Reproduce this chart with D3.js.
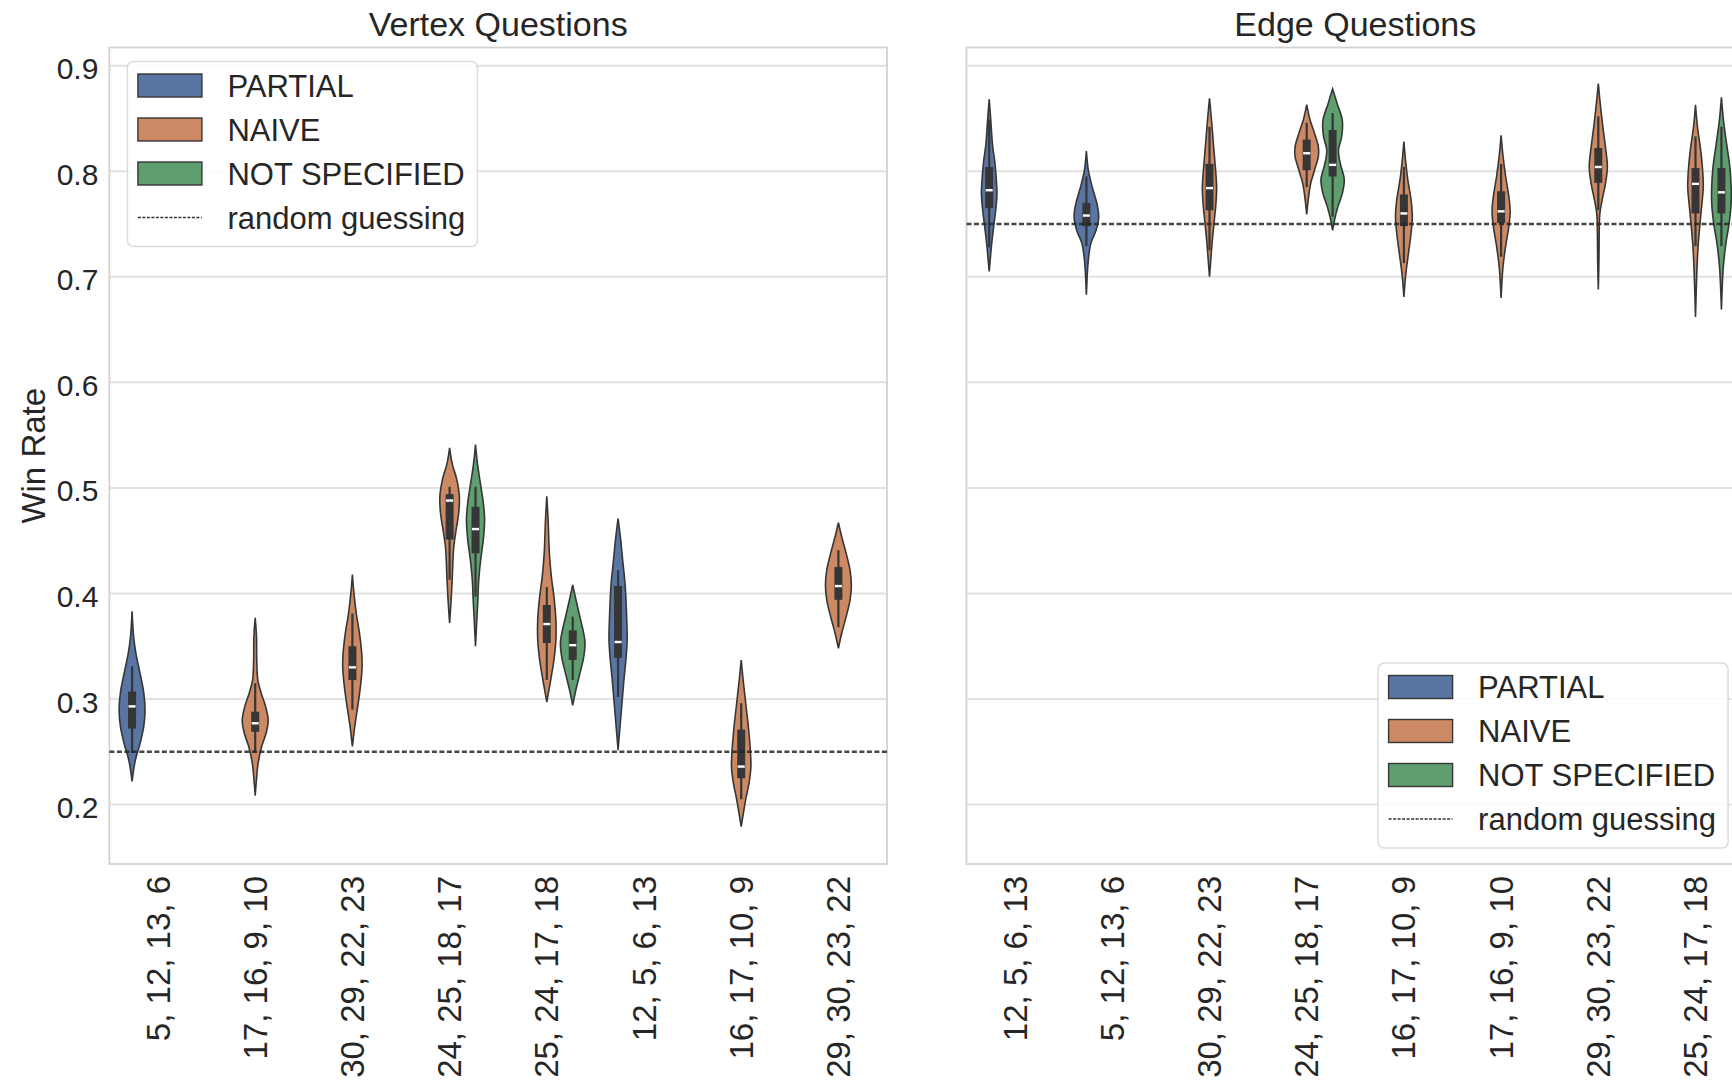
<!DOCTYPE html>
<html>
<head>
<meta charset="utf-8">
<script src="https://cdn.jsdelivr.net/npm/d3@7"></script>
<style>
  body { margin: 0; background: #fff; }
  text { font-family: "Liberation Sans", Arial, Helvetica, sans-serif; fill: #262626; }
</style>
</head>
<body>
<div id="chart"></div>
<script>
// hue levels
var hues = ["PARTIAL", "NAIVE", "NOT SPECIFIED"];
var hueColors = ["#5975a4", "#cc8963", "#5f9e6e"];

var vertexCats = ["5, 12, 13, 6", "17, 16, 9, 10", "30, 29, 22, 23", "24, 25, 18, 17",
                  "25, 24, 17, 18", "12, 5, 6, 13", "16, 17, 10, 9", "29, 30, 23, 22"];
var edgeCats = ["12, 5, 6, 13", "5, 12, 13, 6", "30, 29, 22, 23", "24, 25, 18, 17",
                "16, 17, 10, 9", "17, 16, 9, 10", "29, 30, 23, 22", "25, 24, 17, 18"];

var yTicks = [0.2, 0.3, 0.4, 0.5, 0.6, 0.7, 0.8, 0.9];

// box = [whisker low, q1, median, q3, whisker high]
// profile = [value, relative density]
var vertexViolins = [
  {cat: "5, 12, 13, 6", hue: "PARTIAL", box: [0.249, 0.272, 0.293, 0.307, 0.331],
   profile: [[0.383,0],[0.359,0.12],[0.343,0.3],[0.324,0.62],[0.306,0.9],[0.290,1],[0.274,0.9],[0.258,0.62],[0.242,0.25],[0.222,0]]},
  {cat: "17, 16, 9, 10", hue: "NAIVE", box: [0.249, 0.269, 0.277, 0.288, 0.315],
   profile: [[0.377,0],[0.359,0.1],[0.337,0.12],[0.318,0.2],[0.306,0.45],[0.293,0.8],[0.280,1],[0.268,0.85],[0.255,0.5],[0.239,0.22],[0.224,0.1],[0.209,0]]},
  {cat: "30, 29, 22, 23", hue: "NAIVE", box: [0.290, 0.318, 0.330, 0.350, 0.381],
   profile: [[0.418,0],[0.400,0.12],[0.381,0.3],[0.362,0.55],[0.343,0.72],[0.331,0.75],[0.315,0.65],[0.296,0.45],[0.280,0.25],[0.268,0.12],[0.255,0]]},
  {cat: "24, 25, 18, 17", hue: "NAIVE", box: [0.413, 0.451, 0.488, 0.494, 0.501],
   profile: [[0.538,0],[0.523,0.2],[0.508,0.55],[0.492,0.75],[0.476,0.7],[0.460,0.5],[0.444,0.32],[0.429,0.25],[0.413,0.2],[0.394,0.12],[0.372,0]]},
  {cat: "24, 25, 18, 17", hue: "NOT SPECIFIED", box: [0.397, 0.438, 0.461, 0.482, 0.501],
   profile: [[0.541,0],[0.523,0.15],[0.504,0.38],[0.486,0.6],[0.470,0.7],[0.451,0.6],[0.432,0.4],[0.413,0.25],[0.394,0.18],[0.375,0.1],[0.350,0]]},
  {cat: "25, 24, 17, 18", hue: "NAIVE", box: [0.318, 0.353, 0.371, 0.389, 0.406],
   profile: [[0.492,0],[0.470,0.1],[0.438,0.2],[0.416,0.35],[0.397,0.55],[0.375,0.7],[0.356,0.7],[0.337,0.55],[0.318,0.3],[0.297,0]]},
  {cat: "25, 24, 17, 18", hue: "NOT SPECIFIED", box: [0.318, 0.337, 0.351, 0.365, 0.378],
   profile: [[0.408,0],[0.394,0.25],[0.378,0.55],[0.362,0.85],[0.353,0.95],[0.340,0.85],[0.324,0.55],[0.309,0.25],[0.294,0]]},
  {cat: "12, 5, 6, 13", hue: "PARTIAL", box: [0.302, 0.339, 0.354, 0.407, 0.422],
   profile: [[0.471,0],[0.451,0.2],[0.432,0.35],[0.407,0.55],[0.381,0.65],[0.356,0.7],[0.337,0.6],[0.318,0.45],[0.296,0.3],[0.274,0.15],[0.252,0]]},
  {cat: "16, 17, 10, 9", hue: "NAIVE", box: [0.205, 0.225, 0.236, 0.271, 0.296],
   profile: [[0.337,0],[0.318,0.15],[0.296,0.35],[0.274,0.55],[0.252,0.7],[0.236,0.75],[0.220,0.6],[0.205,0.35],[0.179,0]]},
  {cat: "29, 30, 23, 22", hue: "NAIVE", box: [0.368, 0.394, 0.407, 0.425, 0.441],
   profile: [[0.467,0],[0.454,0.25],[0.438,0.6],[0.422,0.9],[0.408,1],[0.394,0.9],[0.378,0.6],[0.362,0.25],[0.348,0]]}
];

var edgeViolins = [
  {cat: "12, 5, 6, 13", hue: "PARTIAL", box: [0.728, 0.765, 0.782, 0.804, 0.849],
   profile: [[0.868,0],[0.849,0.12],[0.826,0.25],[0.807,0.45],[0.792,0.55],[0.779,0.6],[0.763,0.5],[0.748,0.35],[0.732,0.2],[0.705,0]]},
  {cat: "5, 12, 13, 6", hue: "PARTIAL", box: [0.729, 0.748, 0.758, 0.770, 0.795],
   profile: [[0.819,0],[0.801,0.15],[0.785,0.45],[0.770,0.8],[0.757,0.95],[0.744,0.75],[0.732,0.35],[0.716,0.15],[0.683,0]]},
  {cat: "30, 29, 22, 23", hue: "NAIVE", box: [0.725, 0.763, 0.784, 0.807, 0.842],
   profile: [[0.869,0],[0.849,0.15],[0.826,0.3],[0.804,0.45],[0.785,0.55],[0.770,0.5],[0.751,0.35],[0.732,0.2],[0.716,0.1],[0.700,0]]},
  {cat: "24, 25, 18, 17", hue: "NAIVE", box: [0.785, 0.801, 0.817, 0.830, 0.846],
   profile: [[0.863,0],[0.849,0.25],[0.836,0.6],[0.823,0.9],[0.814,0.9],[0.801,0.6],[0.788,0.3],[0.773,0.12],[0.759,0]]},
  {cat: "24, 25, 18, 17", hue: "NOT SPECIFIED", box: [0.757, 0.795, 0.806, 0.839, 0.855],
   profile: [[0.878,0],[0.864,0.35],[0.848,0.75],[0.833,0.7],[0.820,0.45],[0.807,0.6],[0.792,0.9],[0.779,0.75],[0.766,0.4],[0.754,0.15],[0.744,0]]},
  {cat: "16, 17, 10, 9", hue: "NAIVE", box: [0.713, 0.748, 0.760, 0.778, 0.804],
   profile: [[0.828,0],[0.811,0.12],[0.792,0.3],[0.773,0.55],[0.757,0.65],[0.741,0.55],[0.722,0.35],[0.703,0.15],[0.681,0]]},
  {cat: "17, 16, 9, 10", hue: "NAIVE", box: [0.719, 0.751, 0.762, 0.781, 0.807],
   profile: [[0.834,0],[0.814,0.15],[0.795,0.35],[0.776,0.6],[0.762,0.7],[0.748,0.6],[0.729,0.35],[0.710,0.15],[0.680,0]]},
  {cat: "29, 30, 23, 22", hue: "NAIVE", box: [0.763, 0.789, 0.804, 0.822, 0.852],
   profile: [[0.883,0],[0.864,0.15],[0.842,0.35],[0.823,0.55],[0.804,0.7],[0.788,0.55],[0.773,0.3],[0.760,0.12],[0.741,0.07],[0.716,0.05],[0.688,0]]},
  {cat: "25, 24, 17, 18", hue: "NAIVE", box: [0.729, 0.760, 0.788, 0.803, 0.833],
   profile: [[0.863,0],[0.842,0.15],[0.820,0.4],[0.801,0.55],[0.785,0.6],[0.770,0.5],[0.751,0.35],[0.729,0.2],[0.703,0.1],[0.662,0]]},
  {cat: "25, 24, 17, 18", hue: "NOT SPECIFIED", box: [0.729, 0.760, 0.780, 0.803, 0.842],
   profile: [[0.870,0],[0.849,0.15],[0.826,0.4],[0.804,0.65],[0.785,0.75],[0.770,0.75],[0.751,0.6],[0.732,0.35],[0.710,0.15],[0.669,0]]}
];

var W = 1732, H = 1086;
var axTop = 47.5, axBottom = 864, axW = 777.6;

var svg = d3.select("#chart").append("svg")
  .attr("width", W)
  .attr("height", H);

svg.append("rect").attr("width", W).attr("height", H).attr("fill", "#fff");

var y = d3.scaleLinear().domain([0.1437, 0.9172]).range([axBottom, axTop]);
var color = d3.scaleOrdinal().domain(hues).range(hueColors);

function drawPanel(left, title, cats, violins, chance, showY, legendPos) {
  var x = d3.scaleBand().domain(cats).range([left, left + axW]);
  var hx = d3.scaleBand().domain(hues).range([x.bandwidth() * 0.1, x.bandwidth() * 0.9]);
  var w = d3.scaleLinear().domain([0, 1]).range([0, hx.bandwidth() / 2]);

  var g = svg.append("g");

  // grid
  g.selectAll("line.grid")
    .data(yTicks)
    .enter().append("line")
      .attr("x1", left).attr("x2", left + axW)
      .attr("y1", function(d) { return y(d); })
      .attr("y2", function(d) { return y(d); })
      .attr("stroke", "#e2e2e2")
      .attr("stroke-width", 2);

  // frame
  g.append("rect")
    .attr("x", left).attr("y", axTop)
    .attr("width", axW).attr("height", axBottom - axTop)
    .attr("fill", "none")
    .attr("stroke", "#d2d2d2")
    .attr("stroke-width", 1.8);

  var area = d3.area()
    .y(function(d) { return y(d[0]); })
    .x0(function(d) { return -w(d[1]); })
    .x1(function(d) { return w(d[1]); })
    .curve(d3.curveCatmullRom);

  var vg = g.selectAll("g.violin")
    .data(violins)
    .enter().append("g")
      .attr("transform", function(d) {
        return "translate(" + (x(d.cat) + hx(d.hue) + hx.bandwidth() / 2) + ",0)";
      });

  vg.append("path")
    .attr("d", function(d) { return area(d.profile); })
    .attr("fill", function(d) { return color(d.hue); })
    .attr("stroke", "#363636")
    .attr("stroke-width", 1.6);

  vg.append("line")
    .attr("x1", 0).attr("x2", 0)
    .attr("y1", function(d) { return y(d.box[0]); })
    .attr("y2", function(d) { return y(d.box[4]); })
    .attr("stroke", "#363636")
    .attr("stroke-width", 2.2);

  vg.append("rect")
    .attr("x", -4).attr("width", 8)
    .attr("y", function(d) { return y(d.box[3]); })
    .attr("height", function(d) { return y(d.box[1]) - y(d.box[3]); })
    .attr("fill", "#363636");

  vg.append("rect")
    .attr("x", -3.5).attr("width", 7)
    .attr("y", function(d) { return y(d.box[2]) - 1.2; })
    .attr("height", 2.4)
    .attr("fill", "#fff");

  // random guessing line
  g.append("line")
    .attr("x1", left).attr("x2", left + axW)
    .attr("y1", y(chance)).attr("y2", y(chance))
    .attr("stroke", "#262626")
    .attr("stroke-width", 2.6)
    .attr("stroke-dasharray", "5,2.5")
    .attr("opacity", 0.85);

  // title
  g.append("text")
    .attr("x", left + axW / 2).attr("y", 36)
    .attr("text-anchor", "middle")
    .attr("font-size", 34)
    .text(title);

  // x tick labels
  g.selectAll("text.xt")
    .data(cats)
    .enter().append("text")
      .attr("transform", function(d) {
        return "translate(" + (x(d) + x.bandwidth() / 2) + "," + (axBottom + 12) + ") rotate(-90)";
      })
      .attr("dy", "0.35em")
      .attr("text-anchor", "end")
      .attr("font-size", 33)
      .text(function(d) { return d; });

  if (showY) {
    g.selectAll("text.yt")
      .data(yTicks)
      .enter().append("text")
        .attr("x", left - 11)
        .attr("y", function(d) { return y(d); })
        .attr("dy", "0.45em")
        .attr("text-anchor", "end")
        .attr("font-size", 30)
        .text(function(d) { return d3.format(".1f")(d); });

    g.append("text")
      .attr("transform", "translate(45," + ((axTop + axBottom) / 2) + ") rotate(-90)")
      .attr("text-anchor", "middle")
      .attr("font-size", 33)
      .text("Win Rate");
  }

  // legend
  var lw = 350, lh = 185;
  var lx = legendPos === "ul" ? left + 18 : left + axW - 16 - lw;
  var ly = legendPos === "ul" ? axTop + 14 : axBottom - 16 - lh;
  var lg = g.append("g").attr("transform", "translate(" + lx + "," + ly + ")");
  lg.append("rect")
    .attr("width", lw).attr("height", lh)
    .attr("rx", 6)
    .attr("fill", "#fff").attr("fill-opacity", 0.85)
    .attr("stroke", "#dcdcdc").attr("stroke-width", 1.5);

  var items = hues.concat(["random guessing"]);
  var row = lg.selectAll("g.item")
    .data(items)
    .enter().append("g")
      .attr("transform", function(d, i) { return "translate(0," + (24 + i * 44) + ")"; });

  row.filter(function(d, i) { return i < 3; })
    .append("rect")
      .attr("x", 10.5).attr("y", -11.5)
      .attr("width", 64).attr("height", 23)
      .attr("fill", function(d) { return color(d); })
      .attr("stroke", "#363636").attr("stroke-width", 1.4);

  row.filter(function(d, i) { return i === 3; })
    .append("line")
      .attr("x1", 10.5).attr("x2", 74.5)
      .attr("stroke", "#333").attr("stroke-width", 1.3)
      .attr("stroke-dasharray", "3,1.5");

  row.append("text")
    .attr("x", 100)
    .attr("dy", "0.36em")
    .attr("font-size", 31)
    .text(function(d) { return d; });
}

drawPanel(109.4, "Vertex Questions", vertexCats, vertexViolins, 0.25, true, "ul");
drawPanel(966.5, "Edge Questions", edgeCats, edgeViolins, 0.75, false, "lr");
</script>
</body>
</html>
